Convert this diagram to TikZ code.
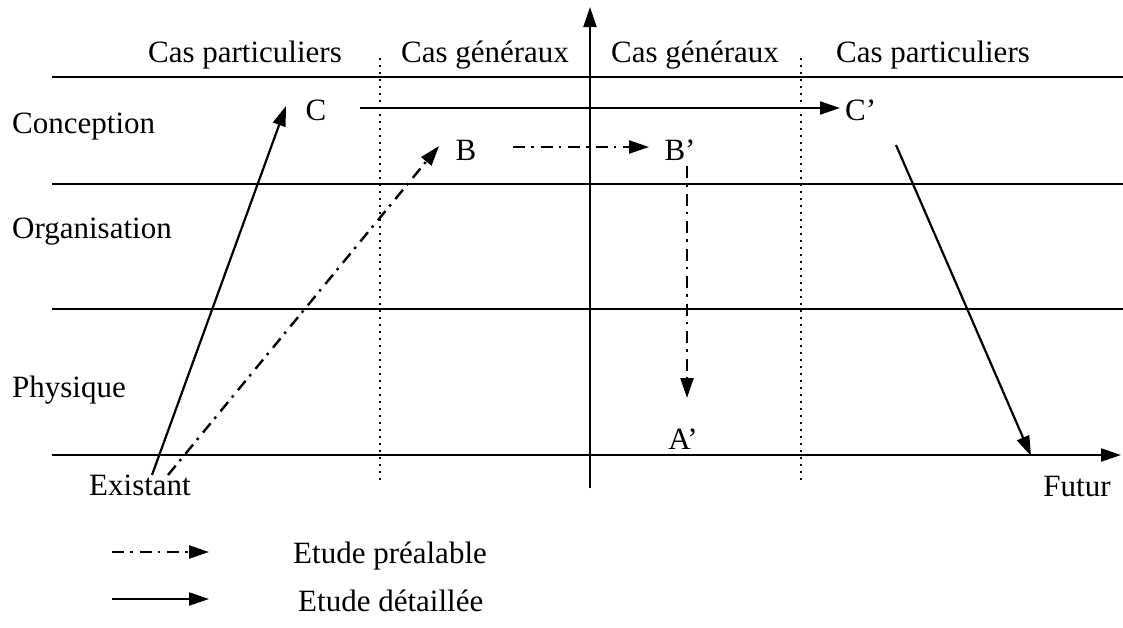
\documentclass[tikz,border=0pt]{standalone}
\usepackage{fontspec}
\setmainfont{Liberation Serif}
\usetikzlibrary{arrows.meta}
\begin{document}
\begin{tikzpicture}[x=1pt,y=-1pt,
  every node/.style={inner sep=0pt,font=\fontsize{31}{36}\selectfont},
  lbl/.style={anchor=base},
  lblw/.style={anchor=base west},
  rule/.style={line width=2.2pt},
  sep/.style={line width=2.2pt,dash pattern=on 1.8pt off 5.2pt},
  tip/.style={-{Triangle[length=20pt,width=13pt]}},
  solidarrow/.style={line width=2.2pt,tip},
  prelarrow/.style={line width=2.4pt,tip,dash pattern=on 12pt off 6pt on 2.5pt off 7pt}]
\useasboundingbox (0,0) rectangle (1123,627);
% axes and band lines
\coordinate (h1a) at (52,77);  \coordinate (h1b) at (1123,77);
\coordinate (h2a) at (52,184); \coordinate (h2b) at (1123,184);
\coordinate (h3a) at (52,309); \coordinate (h3b) at (1123,309);
\coordinate (xa) at (52,455);  \coordinate (xb) at (1121,455);
\coordinate (ya) at (590,488); \coordinate (yb) at (590,7);
\coordinate (d1a) at (380,58); \coordinate (d1b) at (380,480);
\coordinate (d2a) at (801,58); \coordinate (d2b) at (801,480);
\draw[rule] (h1a) -- (h1b);
\draw[rule] (h2a) -- (h2b);
\draw[rule] (h3a) -- (h3b);
\draw[rule,tip] (xa) -- (xb);
\draw[rule,tip] (ya) -- (yb);
\draw[sep] (d1a) -- (d1b);
\draw[sep] (d2a) -- (d2b);
% headers
\node[lbl] (cp1) at (245,62) {Cas particuliers};
\node[lbl] (cg1) at (485,62) {Cas généraux};
\node[lbl] (cg2) at (695,62) {Cas généraux};
\node[lbl] (cp2) at (933,62) {Cas particuliers};
% levels
\node[lblw] (conc) at (12,133) {Conception};
\node[lblw] (orga) at (12,238) {Organisation};
\node[lblw] (phys) at (12,397) {Physique};
% points
\node[lbl] (C) at (316,120) {C};
\node[lblw] (Cp) at (845,120) {C’};
\node[lbl] (B) at (466,160) {B};
\node[lbl] (Bp) at (680,160) {B’};
\node[lbl] (Ap) at (683,449) {A’};
\node[lbl] (exist) at (140,495) {Existant};
\node[lbl] (futur) at (1077,496) {Futur};
% connector end points
\coordinate (s1) at (152,475); \coordinate (e1) at (286,106);
\coordinate (s2) at (168,475); \coordinate (e2) at (439,146);
\coordinate (s3) at (360,108); \coordinate (e3) at (840,108);
\coordinate (s4) at (513,147); \coordinate (e4) at (649,147);
\coordinate (s5) at (687,166); \coordinate (e5) at (687,398);
\coordinate (s6) at (896,145); \coordinate (e6) at (1031,456);
\draw[solidarrow] (s1) -- (e1);
\draw[prelarrow] (s2) -- (e2);
\draw[solidarrow] (s3) -- (e3);
\draw[prelarrow] (s4) -- (e4);
\draw[prelarrow] (s5) -- (e5);
\draw[solidarrow] (s6) -- (e6);
% legend
\coordinate (l1a) at (112,552); \coordinate (l1b) at (209,552);
\coordinate (l2a) at (112,599); \coordinate (l2b) at (209,599);
\draw[prelarrow] (l1a) -- (l1b);
\draw[solidarrow] (l2a) -- (l2b);
\node[lblw] (leg1) at (293,563) {Etude préalable};
\node[lblw] (leg2) at (298,611) {Etude détaillée};
\end{tikzpicture}
\end{document}
